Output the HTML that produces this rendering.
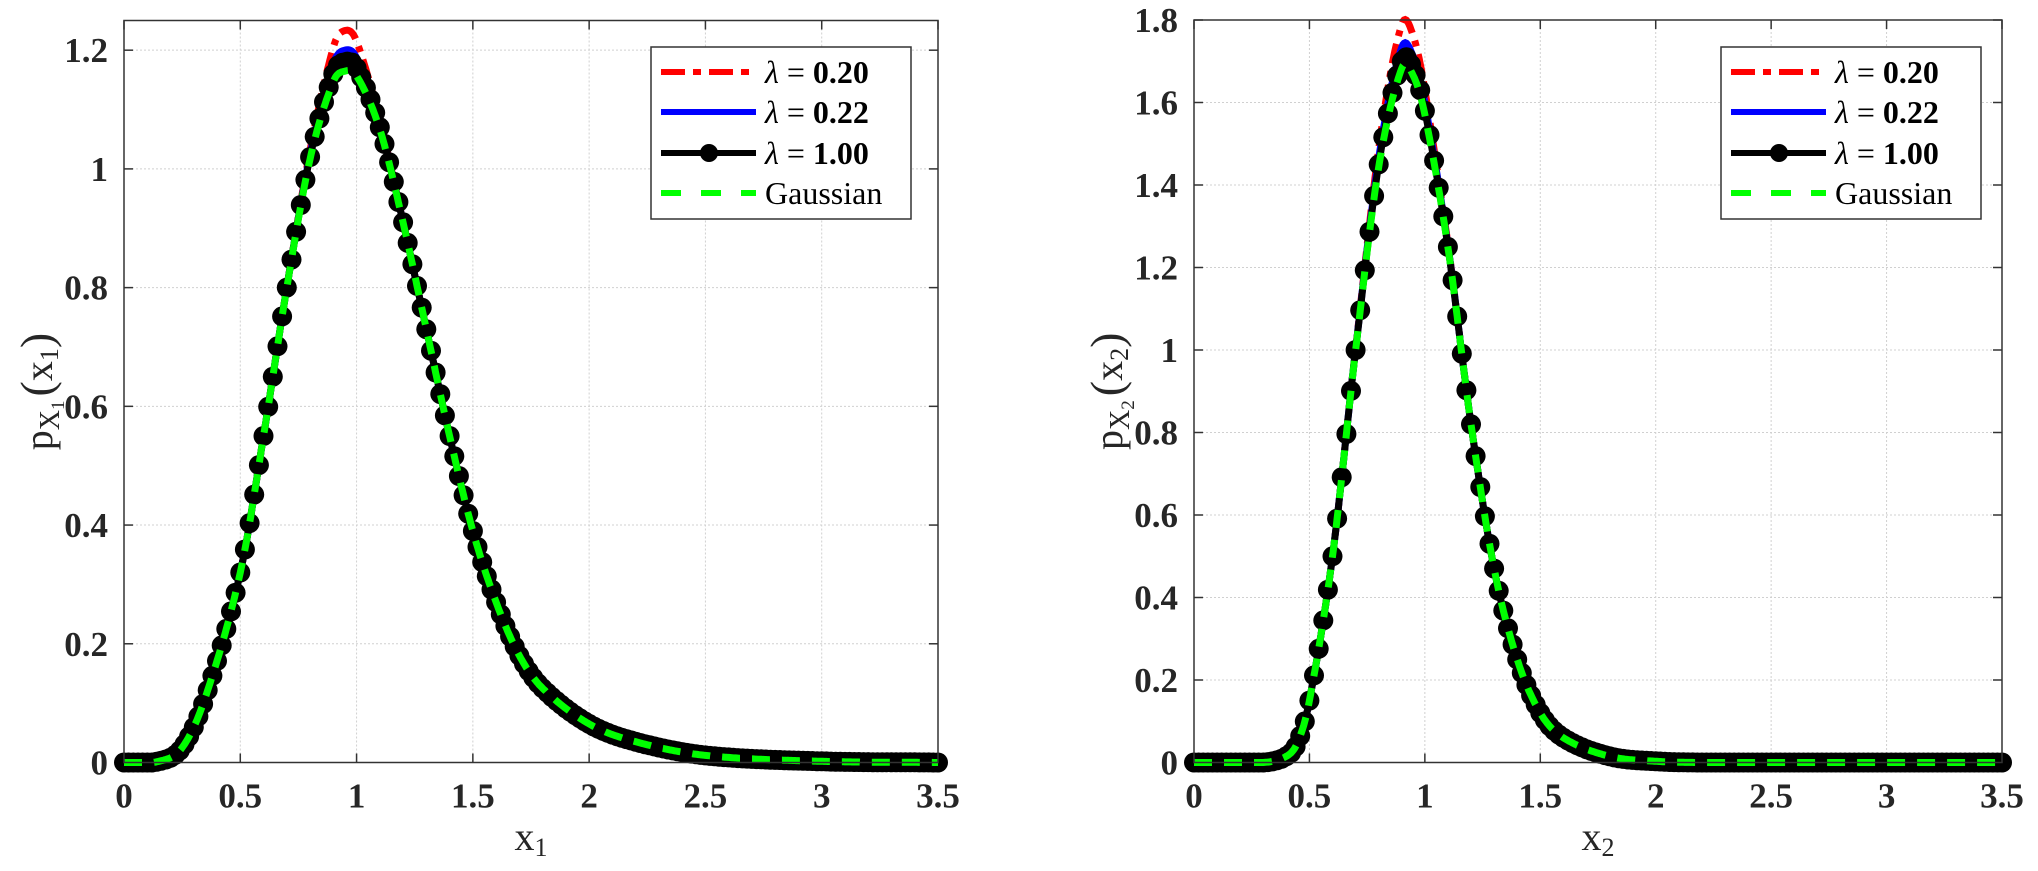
<!DOCTYPE html>
<html><head><meta charset="utf-8"><style>
html,body{margin:0;padding:0;background:#fff;}
svg{display:block;}
.tk{font-family:"Liberation Serif",serif;font-weight:bold;font-size:35px;fill:#262626;}
.lg{font-family:"Liberation Serif",serif;font-size:32px;fill:#000;}
.lb{font-family:"Liberation Serif",serif;font-size:40px;fill:#262626;}
</style></head><body>
<svg id="s" width="2038" height="871" xmlns="http://www.w3.org/2000/svg"></svg>
<script>
const S=document.getElementById('s');let h='';
function interp(pts,x){if(x<=pts[0][0])return pts[0][1];if(x>=pts[pts.length-1][0])return pts[pts.length-1][1];
for(let i=0;i<pts.length-1;i++){if(x>=pts[i][0]&&x<=pts[i+1][0]){const p0=pts[Math.max(0,i-1)],p1=pts[i],p2=pts[i+1],p3=pts[Math.min(pts.length-1,i+2)];
const t=(x-p1[0])/(p2[0]-p1[0]);const dx=p2[0]-p1[0];
const m1=(p2[1]-p0[1])/(p2[0]-p0[0])*dx,m2=(p3[1]-p1[1])/(p3[0]-p1[0])*dx;
const t2=t*t,t3=t2*t;return Math.max(0,(2*t3-3*t2+1)*p1[1]+(t3-2*t2+t)*m1+(-2*t3+3*t2)*p2[1]+(t3-t2)*m2);}}}
const L={x0:124,x1:938,y0:762.5,yt:20.5,ymax:1.25,yticks:[0,0.2,0.4,0.6,0.8,1,1.2],lab:'1',
pts:[[0,0],[0.15,0.002],[0.25,0.025],[0.35,0.11],[0.5,0.32],[0.6,0.55],[0.7,0.8],[0.8,1.02],[0.9,1.16],[0.95,1.18],[1.0,1.17],[1.1,1.07],[1.2,0.91],[1.3,0.73],[1.4,0.55],[1.5,0.39],[1.6,0.27],[1.7,0.18],[1.8,0.125],[2.0,0.065],[2.2,0.035],[2.5,0.012],[3,0.002],[3.5,0]],
xp:0.95,a:[0.045,0.017,-0.013],leg:651};
const R={x0:1194,x1:2002,y0:762.5,yt:20,ymax:1.8,yticks:[0,0.2,0.4,0.6,0.8,1,1.2,1.4,1.6,1.8],lab:'2',
pts:[[0,0],[0.3,0],[0.4,0.015],[0.45,0.05],[0.5,0.15],[0.6,0.5],[0.7,1.0],[0.8,1.45],[0.9,1.7],[0.95,1.68],[1.0,1.58],[1.1,1.25],[1.2,0.82],[1.3,0.47],[1.4,0.25],[1.5,0.12],[1.6,0.06],[1.8,0.015],[2.0,0.003],[2.2,0],[3.5,0]],
xp:0.91,a:[0.053,0.02,-0.01],leg:1721};
function draw(P){
const X=x=>P.x0+x/3.5*(P.x1-P.x0),Y=y=>P.y0-y/P.ymax*(P.y0-P.yt);
for(let i=0;i<=7;i++){const x=X(i*0.5);h+=`<line x1="${x}" y1="${P.yt}" x2="${x}" y2="${P.y0}" stroke="#d0d0d0" stroke-width="1" stroke-dasharray="2,2"/>`;
h+=`<line x1="${x}" y1="${P.y0}" x2="${x}" y2="${P.y0-9}" stroke="#333" stroke-width="1.5"/><line x1="${x}" y1="${P.yt}" x2="${x}" y2="${P.yt+9}" stroke="#333" stroke-width="1.5"/>`;
h+=`<text class="tk" x="${x}" y="${P.y0+45}" text-anchor="middle">${i*0.5}</text>`;}
for(const v of P.yticks){const y=Y(v);h+=`<line x1="${P.x0}" y1="${y}" x2="${P.x1}" y2="${y}" stroke="#d0d0d0" stroke-width="1" stroke-dasharray="2,2"/>`;
h+=`<line x1="${P.x0}" y1="${y}" x2="${P.x0+9}" y2="${y}" stroke="#333" stroke-width="1.5"/><line x1="${P.x1}" y1="${y}" x2="${P.x1-9}" y2="${y}" stroke="#333" stroke-width="1.5"/>`;
h+=`<text class="tk" x="${P.x0-16}" y="${y+12}" text-anchor="end">${v}</text>`;}
const f=(x,k)=>interp(P.pts,x)*(1+(k<0?0:P.a[k])*Math.exp(-((x-P.xp)**2)/(2*0.09*0.09)));
const path=k=>{let d='';for(let i=0;i<=700;i++){const x=i*0.005;d+=(i?'L':'M')+X(x).toFixed(1)+','+Y(f(x,k)).toFixed(1);}return d;};
h+=`<path d="${path(0)}" fill="none" stroke="#f00" stroke-width="7" stroke-dasharray="20,8,6,8"/>`;
h+=`<path d="${path(1)}" fill="none" stroke="#00f" stroke-width="7"/>`;
h+=`<path d="${path(-1)}" fill="none" stroke="#000" stroke-width="7"/>`;
for(let i=0;i<=175;i++){const x=i*0.02;h+=`<circle cx="${X(x).toFixed(1)}" cy="${Y(f(x,-1)).toFixed(1)}" r="10" fill="#000"/>`;}
h+=`<path d="${path(2)}" fill="none" stroke="#0f0" stroke-width="7" stroke-dasharray="18,12"/>`;
h+=`<rect x="${P.x0}" y="${P.yt}" width="${P.x1-P.x0}" height="${P.y0-P.yt}" fill="none" stroke="#333" stroke-width="1.5"/>`;
const lx=P.leg;h+=`<rect x="${lx}" y="47" width="260" height="172" fill="#fff" stroke="#333" stroke-width="1.5"/>`;
const rows=[72,112,153,193];
h+=`<line x1="${lx+10}" y1="72" x2="${lx+105}" y2="72" stroke="#f00" stroke-width="6" stroke-dasharray="24,8,8,8"/>`;
h+=`<line x1="${lx+10}" y1="112" x2="${lx+105}" y2="112" stroke="#00f" stroke-width="6"/>`;
h+=`<line x1="${lx+10}" y1="153" x2="${lx+105}" y2="153" stroke="#000" stroke-width="6"/><circle cx="${lx+58}" cy="153" r="9"/>`;
h+=`<line x1="${lx+10}" y1="193" x2="${lx+105}" y2="193" stroke="#0f0" stroke-width="6" stroke-dasharray="20,20"/>`;
const labs=['<tspan font-style="italic">λ</tspan> = <tspan font-weight="bold">0.20</tspan>','<tspan font-style="italic">λ</tspan> = <tspan font-weight="bold">0.22</tspan>','<tspan font-style="italic">λ</tspan> = <tspan font-weight="bold">1.00</tspan>','Gaussian'];
labs.forEach((t,i)=>h+=`<text class="lg" x="${lx+114}" y="${rows[i]+11}">${t}</text>`);
const cx=(P.x0+P.x1)/2;h+=`<text class="lb" x="${cx}" y="850" text-anchor="middle">x<tspan font-size="26" dy="6">${P.lab}</tspan></text>`;
const cy=(P.y0+P.yt)/2;h+=`<text class="lb" transform="translate(${P.x0-72},${cy}) rotate(-90)" text-anchor="middle">p<tspan font-size="28" dy="7">X</tspan><tspan font-size="19" dy="5">${P.lab}</tspan><tspan dy="-12" dx="4" font-size="46">(</tspan>x<tspan font-size="26" dy="6">${P.lab}</tspan><tspan dy="-6" font-size="46">)</tspan></text>`;
}
draw(L);draw(R);S.innerHTML=h;
</script>
</body></html>
